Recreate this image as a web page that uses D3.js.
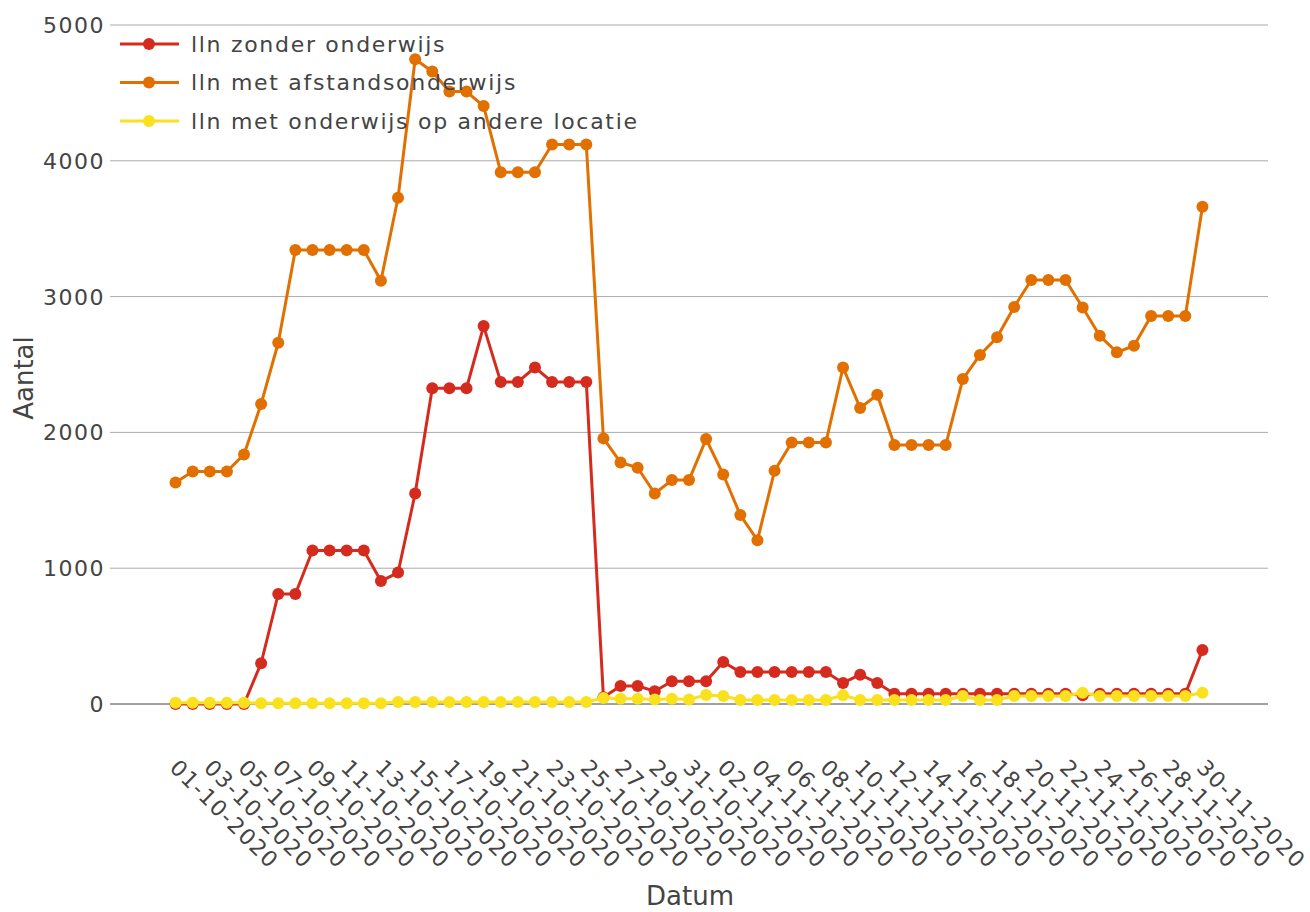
<!DOCTYPE html>
<html>
<head>
<meta charset="utf-8">
<script src="https://cdn.jsdelivr.net/npm/d3@7"></script>
<style>
  body { margin: 0; background: #fff; }
  svg text { font-family: "DejaVu Sans", Verdana, sans-serif; fill: #444; }
</style>
</head>
<body>
<svg id="chart" width="1310" height="912"></svg>
<script>
// dates on the x axis (one per day)
const dates = [
  "01-10-2020","02-10-2020","03-10-2020","04-10-2020","05-10-2020","06-10-2020","07-10-2020","08-10-2020",
  "09-10-2020","10-10-2020","11-10-2020","12-10-2020","13-10-2020","14-10-2020","15-10-2020","16-10-2020",
  "17-10-2020","18-10-2020","19-10-2020","20-10-2020","21-10-2020","22-10-2020","23-10-2020","24-10-2020",
  "25-10-2020","26-10-2020","27-10-2020","28-10-2020","29-10-2020","30-10-2020","31-10-2020","01-11-2020",
  "02-11-2020","03-11-2020","04-11-2020","05-11-2020","06-11-2020","07-11-2020","08-11-2020","09-11-2020",
  "10-11-2020","11-11-2020","12-11-2020","13-11-2020","14-11-2020","15-11-2020","16-11-2020","17-11-2020",
  "18-11-2020","19-11-2020","20-11-2020","21-11-2020","22-11-2020","23-11-2020","24-11-2020","25-11-2020",
  "26-11-2020","27-11-2020","28-11-2020","29-11-2020","30-11-2020"
];

const zonderOnderwijs = [
  0, 0, 0, 0, 0, 300, 810, 810, 1130, 1130, 1130, 1130, 905, 968, 1550, 2325,
  2325, 2325, 2783, 2372, 2372, 2478, 2372, 2372, 2372, 50, 133, 133, 94, 167, 167, 167,
  309, 235, 235, 235, 235, 235, 235, 155, 216, 155, 75, 75, 75, 75, 75, 75,
  75, 75, 75, 75, 75, 64, 75, 75, 75, 75, 75, 75, 397
];

const afstandsonderwijs = [
  1631, 1712, 1712, 1712, 1838, 2209, 2660, 3343, 3343, 3343, 3343, 3343, 3117, 3728, 4748, 4658,
  4510, 4510, 4403, 3916, 3916, 3916, 4120, 4120, 4120, 1956, 1779, 1740, 1550, 1649, 1649, 1951,
  1690, 1391, 1206, 1717, 1926, 1926, 1926, 2478, 2180, 2277, 1907, 1907, 1907, 1907, 2393, 2570,
  2700, 2924, 3122, 3122, 3122, 2920, 2711, 2590, 2638, 2857, 2857, 2857, 3661
];

const andereLocatie = [
  10, 10, 10, 10, 10, 5, 5, 5, 5, 5, 5, 5, 5, 15, 15, 15,
  15, 15, 15, 15, 15, 15, 15, 15, 15, 44, 39, 39, 34, 39, 34, 66,
  59, 29, 29, 29, 29, 29, 29, 64, 29, 29, 29, 29, 29, 29, 59, 29,
  29, 59, 59, 59, 59, 83, 59, 59, 59, 59, 59, 59, 83
];

const seriesNames = ["lln zonder onderwijs", "lln met afstandsonderwijs", "lln met onderwijs op andere locatie"];
const seriesColors = ["#d52b1e", "#e17000", "#f9e11e"];
const yTicks = [0, 1000, 2000, 3000, 4000, 5000];

const series = [zonderOnderwijs, afstandsonderwijs, andereLocatie].map((vals, k) => ({
  name: seriesNames[k],
  color: seriesColors[k],
  values: vals.map((v, i) => ({ date: dates[i], value: v }))
}));

const svg = d3.select("#chart");
const plotLeft = 110, plotRight = 1268, plotTop = 25, plotBottom = 704;

const x = d3.scalePoint().domain(dates).range([plotLeft, plotRight]).padding(3.83);
const y = d3.scaleLinear().domain([0, 5000]).range([plotBottom, plotTop]);

// gridlines
svg.append("g")
  .selectAll("line")
  .data(yTicks.filter(d => d > 0))
  .join("line")
  .attr("x1", plotLeft).attr("x2", plotRight)
  .attr("y1", d => y(d)).attr("y2", d => y(d))
  .attr("stroke", "#aaa").attr("stroke-width", 1);

// zero line
svg.append("line")
  .attr("x1", plotLeft).attr("x2", plotRight)
  .attr("y1", y(0)).attr("y2", y(0))
  .attr("stroke", "#444").attr("stroke-width", 1);

// y tick labels
svg.append("g")
  .selectAll("text")
  .data(yTicks)
  .join("text")
  .attr("x", 105)
  .attr("y", d => y(d))
  .attr("dy", "0.36em")
  .attr("text-anchor", "end")
  .style("font-size", "22px")
  .style("letter-spacing", "1.5px")
  .text(d => d);

// x tick labels, every other day, rotated
svg.append("g")
  .selectAll("text")
  .data(dates.filter((d, i) => i % 2 === 0))
  .join("text")
  .attr("transform", d => "translate(" + (x(d) - 7) + ",769) rotate(45)")
  .attr("text-anchor", "start")
  .style("font-size", "22px")
  .style("letter-spacing", "1.5px")
  .text(d => d);

// axis titles
svg.append("text")
  .attr("x", 690).attr("y", 905)
  .attr("text-anchor", "middle")
  .style("font-size", "26px")
  .text("Datum");

svg.append("text")
  .attr("transform", "translate(33,378) rotate(-90)")
  .attr("text-anchor", "middle")
  .style("font-size", "26px")
  .text("Aantal");

// lines + markers
const line = d3.line().x(d => x(d.date)).y(d => y(d.value));

const traces = svg.append("g")
  .selectAll("g")
  .data(series)
  .join("g");

traces.append("path")
  .attr("d", d => line(d.values))
  .attr("fill", "none")
  .attr("stroke", d => d.color)
  .attr("stroke-width", 3)
  .attr("stroke-linejoin", "round");

traces.selectAll("circle")
  .data(d => d.values.map(v => ({ ...v, color: d.color })))
  .join("circle")
  .attr("cx", d => x(d.date))
  .attr("cy", d => y(d.value))
  .attr("r", 6)
  .attr("fill", d => d.color);

// legend
const legend = svg.append("g")
  .selectAll("g")
  .data(series)
  .join("g")
  .attr("transform", (d, i) => "translate(0," + (44 + i * 38.5) + ")");

legend.append("line")
  .attr("x1", 120).attr("x2", 179)
  .attr("stroke", d => d.color).attr("stroke-width", 3);

legend.append("circle")
  .attr("cx", 149).attr("r", 6)
  .attr("fill", d => d.color);

legend.append("text")
  .attr("x", 191)
  .attr("dy", "0.36em")
  .style("font-size", "22px")
  .style("letter-spacing", "1.7px")
  .text(d => d.name);
</script>
</body>
</html>
